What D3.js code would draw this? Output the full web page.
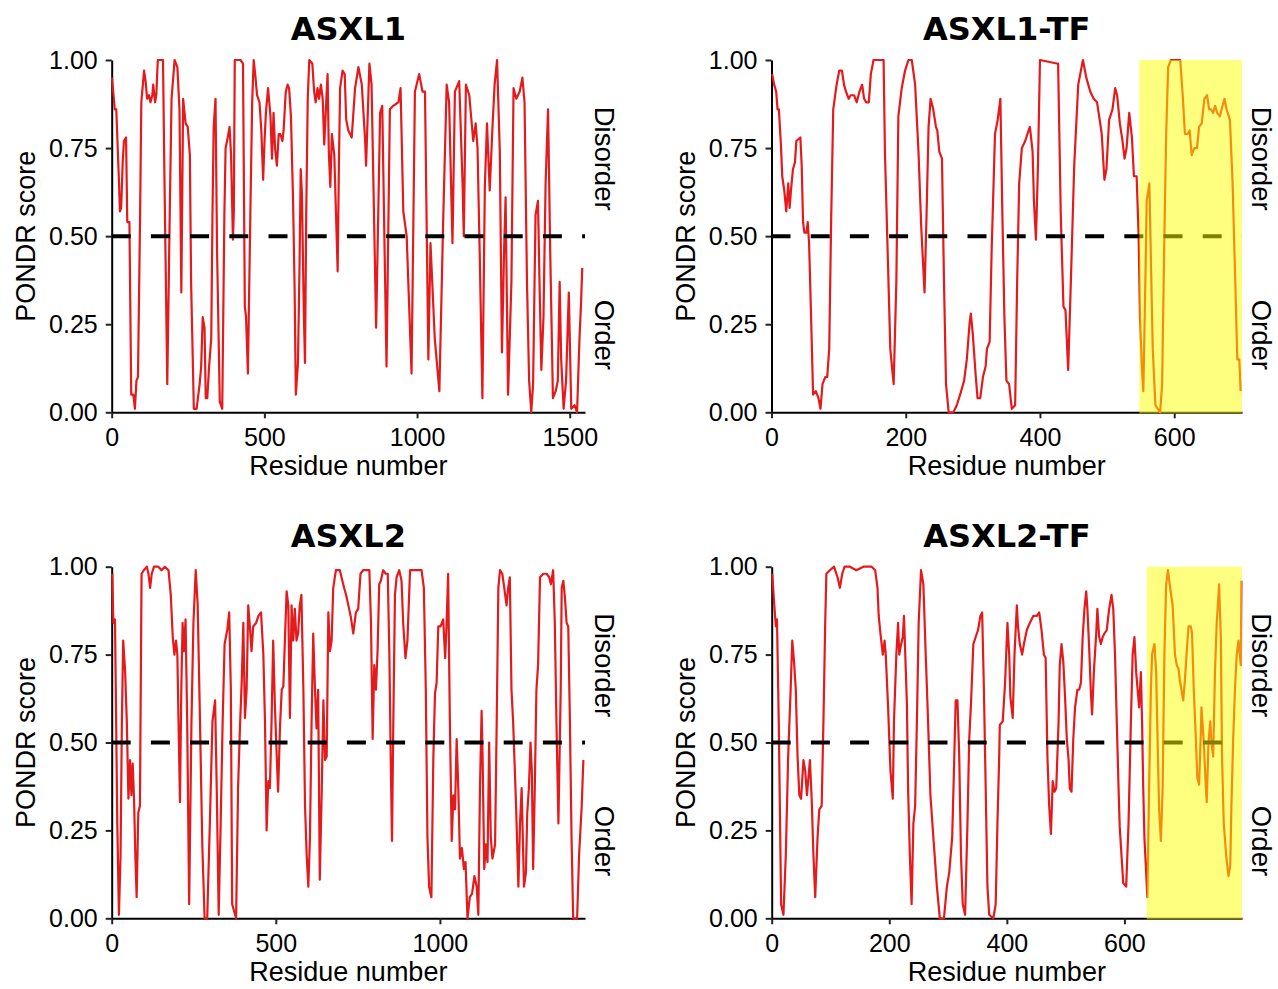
<!DOCTYPE html>
<html>
<head>
<meta charset="utf-8">
<script src="https://cdnjs.cloudflare.com/ajax/libs/d3/7.8.5/d3.min.js"></script>
<style>
  body { margin:0; background:#fff; }
  svg text { font-family:"Liberation Sans", Arial, sans-serif; fill:#000; }
  .title { font-family:"DejaVu Sans", sans-serif; font-weight:bold; font-size:32px; }
  .tick text { font-size:25px; }
  .axis-title { font-size:27px; }
  .side { font-size:27.5px; }
</style>
</head>
<body>
<svg id="chart" width="1278" height="989"></svg>
<script>
// PONDR scores (residue, score)
var asxl1Res = [1,10,15,24,27,31,36,40,47,51,58,64,71,76,81,86,93,97,106,111,116,122,127,133,136,142,146,151,168,173,182,190,196,206,215,222,228,234,242,249,256,260,269,278,288,293,298,304,308,313,319,326,330,334,340,345,354,362,369,373,380,386,391,397,400,403,422,430,436,440,446,454,460,465,471,476,484,490,496,500,505,512,520,525,530,535,541,547,552,559,563,570,576,581,587,594,599,603,610,615,619,623,629,633,637,642,647,657,663,668,674,679,685,691,696,702,707,711,716,721,729,734,740,744,748,756,763,768,775,786,797,808,819,830,833,844,851,866,879,886,900,911,922,939,946,955,966,982,993,1007,1018,1026,1037,1044,1058,1073,1086,1097,1105,1116,1124,1138,1149,1153,1160,1171,1184,1192,1198,1205,1214,1222,1229,1238,1247,1254,1262,1271,1278,1285,1290,1298,1309,1316,1325,1336,1345,1352,1360,1367,1374,1380,1388,1396,1401,1407,1414,1421,1429,1436,1445,1454,1461,1467,1472,1480,1488,1497,1505,1516,1524,1532,1537,1541]
var asxl1Score = [0.95,0.86,0.86,0.65,0.57,0.58,0.71,0.77,0.78,0.54,0.54,0.05,0.05,0.01,0.09,0.10,0.56,0.88,0.97,0.94,0.89,0.90,0.88,0.90,0.93,0.88,0.90,1.0,1.0,0.65,0.08,0.56,0.89,1.0,0.98,0.86,0.34,0.89,0.82,0.81,0.73,0.37,0.01,0.01,0.08,0.13,0.27,0.24,0.04,0.04,0.13,0.21,0.56,0.81,0.89,0.46,0.03,0.01,0.56,0.75,0.78,0.81,0.73,0.49,0.57,1.0,1.0,0.99,0.30,0.27,0.11,0.56,0.88,1.0,0.95,0.90,0.88,0.80,0.66,0.76,0.85,0.92,0.84,0.72,0.85,0.75,0.70,0.79,0.79,0.77,0.80,0.91,0.93,0.92,0.84,0.60,0.35,0.05,0.14,0.41,0.69,0.62,0.29,0.14,0.56,0.89,1.0,0.99,0.91,0.88,0.92,0.89,0.93,0.89,0.76,0.87,0.96,0.74,0.64,0.79,0.73,0.58,0.40,0.70,0.92,0.97,0.96,0.83,0.80,0.78,0.92,0.98,0.93,0.77,0.70,0.99,0.93,0.24,0.85,0.87,0.13,0.86,0.87,0.88,0.92,0.57,0.50,0.11,0.91,0.96,0.91,0.91,0.15,0.48,0.21,0.06,0.56,0.93,0.88,0.48,0.91,0.94,0.65,0.50,0.93,0.90,0.77,0.82,0.75,0.46,0.04,0.64,0.82,0.63,0.81,0.93,1.0,0.74,0.17,0.46,0.61,0.05,0.37,0.92,0.89,0.91,0.95,0.88,0.37,0.09,0.0,0.08,0.56,0.60,0.37,0.12,0.27,0.65,0.86,0.46,0.04,0.06,0.09,0.37,0.15,0.01,0.09,0.34,0.01,0.02,0.0,0.21,0.31,0.41]

var asxl1tfRes = [1,4,7,9,11,14,16,19,22,25,27,29,32,35,37,43,45,47,49,52,54,56,59,62,66,70,73,76,80,83,86,89,92,97,101,105,108,111,115,118,123,127,131,135,138,141,145,148,152,167,169,173,177,182,186,189,194,199,204,209,214,219,223,228,231,234,237,241,245,247,250,254,257,260,264,271,276,281,287,291,295,297,300,304,307,311,315,319,321,325,328,333,337,341,344,347,350,354,358,363,366,369,373,378,383,385,389,391,394,397,400,425,427,431,435,438,442,446,451,457,464,469,475,480,485,489,492,496,499,503,508,512,515,519,523,526,529,533,537,540,544,547,549,552,554,557,559,563,565,568,572,579,582,585,588,591,595,609,613,616,620,623,626,630,634,637,641,645,649,652,655,658,661,664,668,672,675,678,683,687,691,694,697,699]
var asxl1tfScore = [0.96,0.93,0.91,0.86,0.86,0.76,0.67,0.63,0.57,0.65,0.58,0.63,0.69,0.71,0.77,0.78,0.70,0.54,0.51,0.51,0.54,0.48,0.27,0.05,0.06,0.04,0.01,0.08,0.10,0.10,0.18,0.56,0.86,0.93,0.97,0.97,0.93,0.91,0.89,0.90,0.90,0.88,0.91,0.93,0.89,0.88,0.88,0.96,1.0,1.0,0.74,0.46,0.18,0.08,0.37,0.84,0.92,0.97,1.0,1.0,0.93,0.74,0.53,0.34,0.56,0.81,0.89,0.86,0.81,0.80,0.74,0.72,0.37,0.08,0.0,0.0,0.02,0.05,0.09,0.15,0.25,0.28,0.22,0.11,0.04,0.04,0.10,0.13,0.18,0.20,0.46,0.79,0.83,0.89,0.56,0.27,0.09,0.08,0.01,0.02,0.37,0.65,0.75,0.77,0.80,0.81,0.74,0.60,0.49,0.70,1.0,0.99,0.99,0.56,0.30,0.29,0.12,0.37,0.70,0.93,1.0,0.95,0.91,0.89,0.88,0.83,0.79,0.66,0.69,0.83,0.86,0.92,0.90,0.82,0.77,0.72,0.75,0.85,0.78,0.67,0.67,0.50,0.27,0.12,0.06,0.37,0.60,0.65,0.46,0.18,0.02,0.0,0.08,0.46,0.79,0.98,1.0,1.0,0.89,0.79,0.79,0.80,0.73,0.75,0.75,0.81,0.82,0.89,0.90,0.86,0.86,0.85,0.87,0.85,0.84,0.87,0.89,0.86,0.83,0.65,0.37,0.15,0.15,0.06]

var asxl2Res = [2,5,10,13,17,22,27,31,35,41,46,51,56,60,64,68,72,76,81,86,91,98,107,112,117,122,129,142,152,162,173,180,186,191,196,200,204,208,212,216,220,225,230,236,243,249,256,262,269,276,283,291,299,307,315,320,326,332,338,344,352,358,363,367,379,385,391,396,401,406,411,416,421,426,431,440,447,455,462,467,472,477,482,487,492,497,502,507,513,518,523,528,533,538,543,548,553,558,563,568,573,578,584,589,594,599,604,609,614,619,624,629,634,640,645,650,655,660,665,670,675,683,695,708,714,721,728,736,744,751,758,766,785,790,795,800,805,810,815,820,827,835,841,846,850,854,858,863,868,876,883,888,895,901,909,924,934,944,951,957,962,967,974,980,985,990,995,1002,1010,1016,1020,1025,1030,1036,1041,1046,1051,1056,1061,1067,1073,1078,1084,1091,1098,1105,1112,1117,1122,1127,1130,1135,1140,1145,1150,1155,1160,1168,1173,1178,1183,1190,1196,1203,1208,1213,1218,1223,1232,1239,1244,1249,1256,1262,1266,1271,1276,1280,1284,1289,1294,1299,1305,1315,1325,1333,1338,1345,1350,1355,1361,1368,1371,1376,1381,1386,1391,1396,1401,1406,1418,1424,1432,1437]
var asxl2Score = [0.98,0.84,0.85,0.61,0.27,0.01,0.18,0.56,0.79,0.70,0.56,0.34,0.45,0.35,0.44,0.34,0.18,0.06,0.30,0.32,0.98,0.99,1.0,0.98,0.94,0.98,1.0,1.0,0.99,1.0,0.99,0.92,0.80,0.75,0.79,0.75,0.54,0.33,0.65,0.84,0.76,0.85,0.56,0.04,0.56,0.84,0.99,0.89,0.56,0.21,0.0,0.0,0.27,0.56,0.62,0.37,0.01,0.27,0.56,0.78,0.82,0.87,0.65,0.04,0.0,0.37,0.55,0.67,0.84,0.57,0.65,0.89,0.83,0.76,0.83,0.84,0.86,0.87,0.75,0.56,0.25,0.39,0.37,0.56,0.79,0.61,0.48,0.36,0.55,0.65,0.66,0.80,0.93,0.89,0.57,0.89,0.79,0.88,0.79,0.81,0.89,0.92,0.65,0.32,0.18,0.09,0.23,0.56,0.81,0.66,0.54,0.65,0.11,0.37,0.62,0.45,0.46,0.87,0.76,0.79,0.94,0.99,0.99,0.94,0.92,0.89,0.86,0.81,0.87,0.88,0.98,0.99,0.99,0.84,0.51,0.72,0.65,0.76,0.95,0.96,0.99,0.98,0.98,0.75,0.46,0.22,0.56,0.92,0.97,0.99,0.96,0.84,0.74,0.79,0.99,0.99,0.99,0.99,0.94,0.65,0.23,0.09,0.06,0.46,0.64,0.67,0.83,0.83,0.85,0.74,0.83,0.98,0.58,0.22,0.35,0.31,0.51,0.37,0.17,0.20,0.14,0.16,0.0,0.06,0.07,0.12,0.09,0.01,0.37,0.59,0.46,0.14,0.21,0.16,0.50,0.23,0.17,0.21,0.56,0.94,0.99,0.98,0.94,0.89,0.94,0.97,0.65,0.56,0.32,0.09,0.27,0.37,0.09,0.13,0.30,0.37,0.50,0.42,0.14,0.37,0.65,0.72,0.97,0.98,0.98,0.97,0.95,0.99,0.84,0.56,0.27,0.65,0.94,0.96,0.91,0.84,0.83,0.56,0.23,0.0,0.0,0.18,0.32,0.45]

var asxl2tfRes = [1,4,7,9,12,16,20,24,28,32,35,38,41,44,47,50,54,57,60,65,68,71,74,78,81,85,88,91,93,99,106,112,116,120,124,133,144,156,170,176,180,182,185,189,192,194,198,202,206,208,212,215,217,219,223,225,227,230,232,235,238,241,244,247,250,254,258,262,266,270,275,281,286,293,298,302,307,310,313,316,319,322,325,329,333,336,339,343,347,351,355,358,361,364,367,370,377,381,384,387,388,393,397,401,404,406,410,413,417,419,422,426,429,434,439,445,451,455,459,463,466,469,472,475,478,481,484,488,490,493,496,499,502,505,507,510,513,516,520,523,526,529,532,535,537,540,543,545,548,552,554,557,560,563,566,570,574,578,581,584,587,590,592,595,598,603,607,611,614,617,620,623,625,628,630,632,634,637,639,642,645,647,651,654,657,659,662,665,668,671,674,677,682,686,689,692,694,697,700,703,706,709,713,715,718,721,724,727,730,731,733,735,738,740,743,746,748,751,754,757,760,761,764,766,769,773,777,780,782,785,788,791,794,795,798,799]
var asxl2tfScore = [0.98,0.90,0.83,0.85,0.56,0.04,0.01,0.18,0.46,0.64,0.79,0.73,0.65,0.46,0.35,0.34,0.45,0.42,0.35,0.45,0.34,0.18,0.06,0.23,0.31,0.32,0.56,0.84,0.98,0.99,1.0,0.97,0.94,0.98,1.0,1.0,0.99,1.0,1.0,0.99,0.94,0.86,0.81,0.75,0.79,0.75,0.60,0.42,0.34,0.56,0.75,0.84,0.75,0.77,0.80,0.86,0.76,0.61,0.37,0.18,0.04,0.27,0.32,0.56,0.84,0.99,0.95,0.75,0.56,0.35,0.23,0.09,0.0,0.0,0.09,0.13,0.23,0.42,0.62,0.62,0.46,0.18,0.04,0.01,0.27,0.51,0.61,0.78,0.80,0.82,0.86,0.87,0.65,0.37,0.09,0.01,0.0,0.04,0.27,0.46,0.55,0.56,0.67,0.84,0.75,0.63,0.57,0.75,0.89,0.83,0.78,0.75,0.78,0.82,0.84,0.86,0.86,0.87,0.82,0.75,0.74,0.46,0.32,0.24,0.39,0.36,0.37,0.56,0.72,0.78,0.73,0.63,0.51,0.45,0.37,0.36,0.51,0.60,0.65,0.65,0.67,0.80,0.88,0.93,0.88,0.77,0.64,0.58,0.70,0.81,0.88,0.80,0.78,0.80,0.81,0.82,0.88,0.92,0.88,0.75,0.56,0.37,0.26,0.18,0.10,0.09,0.27,0.56,0.75,0.80,0.70,0.64,0.60,0.70,0.56,0.37,0.23,0.13,0.06,0.37,0.65,0.75,0.78,0.70,0.46,0.31,0.22,0.37,0.75,0.95,0.99,0.95,0.89,0.75,0.72,0.71,0.68,0.65,0.62,0.68,0.76,0.83,0.83,0.81,0.65,0.53,0.40,0.38,0.53,0.60,0.55,0.50,0.39,0.33,0.50,0.56,0.50,0.46,0.70,0.84,0.92,0.95,0.80,0.46,0.27,0.18,0.12,0.15,0.32,0.51,0.65,0.75,0.79,0.77,0.72,0.96]

var yTicks = [0, 0.25, 0.5, 0.75, 1]
  , threshold = 0.5

var panels = [
  { title:'ASXL1', res:asxl1Res, score:asxl1Score, xMax:1550, xTicks:[0,500,1000,1500], left:111.7, right:585, top:60, bottom:412.3 }
  , { title:'ASXL1-TF', res:asxl1tfRes, score:asxl1tfScore, xMax:701, xTicks:[0,200,400,600], left:771.5, right:1242, top:60, bottom:412.3, tfStart:548 }
  , { title:'ASXL2', res:asxl2Res, score:asxl2Score, xMax:1442, xTicks:[0,500,1000], left:111.7, right:585, top:566.7, bottom:918.3 }
  , { title:'ASXL2-TF', res:asxl2tfRes, score:asxl2tfScore, xMax:800, xTicks:[0,200,400,600], left:771.7, right:1242, top:566.7, bottom:918.3, tfStart:638 }
]

var svg = d3.select('#chart')

function drawPanel(p) {
  var x = d3.scaleLinear().domain([0, p.xMax]).range([p.left, p.right])
    , y = d3.scaleLinear().domain([0, 1]).range([p.bottom, p.top])
    , g = svg.append('g')
    , pts = p.res.map(function(r, i) { return [r, p.score[i]] })

  // axes
  g.append('g')
    .attr('transform', 'translate(0,' + p.bottom + ')')
    .call(d3.axisBottom(x).tickValues(p.xTicks).tickFormat(d3.format('d')).tickSize(6).tickPadding(10).tickSizeOuter(0))
  g.append('g')
    .attr('transform', 'translate(' + p.left + ',0)')
    .call(d3.axisLeft(y).tickValues(yTicks).tickFormat(d3.format('.2f')).tickSize(6).tickPadding(8).tickSizeOuter(0))

  g.selectAll('.domain').attr('stroke', '#000').attr('stroke-width', 2)
  g.selectAll('.tick line').attr('stroke', '#222').attr('stroke-width', 2)
  g.selectAll('.tick text').attr('fill', '#000')

  // score trace
  g.append('path')
    .datum(pts)
    .attr('fill', 'none')
    .attr('stroke', '#e41a1c')
    .attr('stroke-width', 2.2)
    .attr('stroke-linejoin', 'round')
    .attr('d', d3.line().x(function(d) { return x(d[0]) }).y(function(d) { return y(d[1]) }))

  // order/disorder cutoff
  g.append('line')
    .attr('x1', x(0)).attr('x2', x(p.xMax))
    .attr('y1', y(threshold)).attr('y2', y(threshold))
    .attr('stroke', '#000')
    .attr('stroke-width', 4)
    .attr('stroke-dasharray', '19,20.2')

  // truncated / frameshift region
  if (p.tfStart != null) {
    g.append('rect')
      .attr('x', x(p.tfStart))
      .attr('y', y(1))
      .attr('width', x(p.xMax) - x(p.tfStart))
      .attr('height', y(0) - y(1) + 1)
      .attr('fill', '#ffff00')
      .attr('fill-opacity', 0.5)
  }

  g.append('text')
    .attr('class', 'title')
    .attr('x', (p.left + p.right) / 2)
    .attr('y', p.top - 20)
    .attr('text-anchor', 'middle')
    .text(p.title)

  g.append('text')
    .attr('class', 'axis-title')
    .attr('x', (p.left + p.right) / 2)
    .attr('y', p.bottom + 63)
    .attr('text-anchor', 'middle')
    .text('Residue number')

  g.append('text')
    .attr('class', 'axis-title')
    .attr('transform', 'translate(' + (p.left - 86) + ',' + y(0.5) + ') rotate(-90)')
    .attr('dy', '0.35em')
    .attr('text-anchor', 'middle')
    .text('PONDR score')

  ;[['Disorder', 0.72], ['Order', 0.22]].forEach(function(s) {
    g.append('text')
      .attr('class', 'side')
      .attr('transform', 'translate(' + (p.right + 20) + ',' + y(s[1]) + ') rotate(90)')
      .attr('dy', '0.35em')
      .attr('text-anchor', 'middle')
      .text(s[0])
  })
}

panels.forEach(drawPanel)
</script>
</body>
</html>
